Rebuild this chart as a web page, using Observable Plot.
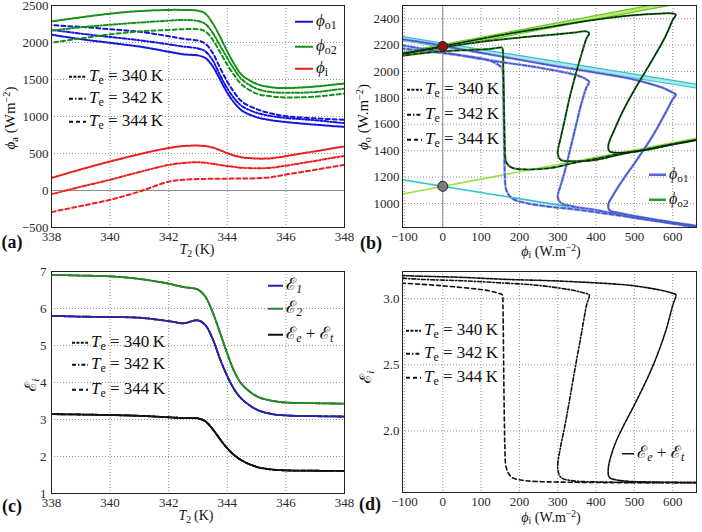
<!DOCTYPE html>
<html>
<head>
<meta charset="utf-8">
<script src="https://cdn.jsdelivr.net/npm/d3@7"></script>
<script src="https://cdn.jsdelivr.net/npm/@observablehq/plot@0.6"></script>
<style>
  body { margin: 0; background: #fff; }
  #fig { position: relative; width: 702px; height: 532px; background: #fff; overflow: hidden;
         font-family: "Liberation Serif", "Times New Roman", Times, "DejaVu Serif", "Noto Serif", serif; color: #111; }
  #fig svg { position: absolute; }
  .lbl { position: absolute; white-space: nowrap; line-height: 1; }
  .row { position: absolute; display: flex; align-items: center; white-space: nowrap;
         transform: translateY(-50%); line-height: 1; }
  .m { font-style: italic; }
  sub { font-size: 0.7em; vertical-align: -0.3em; font-style: normal; }
  sup { font-size: 0.68em; vertical-align: 0.5em; }
  .it { font-style: italic; }
</style>
</head>
<body>
<div id="fig"></div>
<script>
// Temperature of the second reservoir (K)
const T2 = [335, 336, 337, 338, 339, 340, 341, 342, 342.5, 343, 343.25, 343.5, 343.75, 344,
            344.25, 344.5, 345, 345.5, 346, 347, 348, 349, 350, 351, 352, 353, 354];

// Environment temperatures Te (K)
const teValues = [340, 342, 344];

// Input flux phi_i (W m^-2) for each Te
const phiI_340 = [-175, -60, 55, 170, 285, 392, 490, 575, 600, 608, 600, 580, 545, 504,
                  470, 448, 432, 435, 465, 530, 595, 640, 685, 730, 775, 820, 865];
const phiI_342 = [-350, -250, -150, -50, 50, 145, 250, 345, 372, 382, 375, 362, 345, 330,
                  318, 308, 300, 308, 335, 400, 468, 515, 560, 605, 650, 695, 740];
const phiI_344 = [-600, -500, -400, -293, -210, -126, -14, 120, 145, 155, 157, 158, 159, 160,
                  161, 162, 166, 180, 215, 280, 347, 410, 470, 530, 590, 650, 710];

// Output flux phi_o1 (W m^-2)
const phiO1_340 = [2270, 2225, 2165, 2105, 2045, 1995, 1945, 1875, 1840, 1825, 1790, 1680, 1500, 1320,
                   1180, 1080, 990, 950, 925, 890, 860, 840, 820, 800, 780, 760, 740];
const phiO1_342 = [2290, 2260, 2220, 2170, 2120, 2075, 2030, 1975, 1945, 1920, 1880, 1760, 1560, 1380,
                   1240, 1140, 1050, 1005, 980, 950, 910, 885, 865, 845, 825, 805, 790];
const phiO1_344 = [2310, 2290, 2265, 2235, 2210, 2180, 2145, 2085, 2050, 2025, 1985, 1860, 1660, 1470,
                   1320, 1200, 1100, 1040, 1005, 975, 955, 930, 905, 880, 855, 830, 805];

// Output flux phi_o2 (W m^-2)
const phiO2_340 = [2100, 2160, 2222, 2285, 2340, 2390, 2425, 2440, 2440, 2430, 2390, 2260, 2080, 1880,
                   1700, 1560, 1440, 1395, 1385, 1405, 1445, 1470, 1495, 1520, 1545, 1570, 1595];
const phiO2_342 = [2030, 2070, 2110, 2160, 2205, 2240, 2270, 2295, 2305, 2290, 2250, 2130, 1960, 1790,
                   1630, 1500, 1375, 1330, 1320, 1330, 1375, 1400, 1425, 1450, 1475, 1500, 1525];
const phiO2_344 = [1900, 1930, 1960, 2000, 2055, 2110, 2150, 2170, 2180, 2180, 2150, 2040, 1870, 1700,
                   1550, 1430, 1310, 1272, 1258, 1268, 1310, 1345, 1380, 1410, 1445, 1475, 1510];

// Emissivity-like quantities E1, E2 and Ee + Et
const eps1 = [5.83, 5.82, 5.81, 5.80, 5.78, 5.77, 5.75, 5.66, 5.60, 5.68, 5.55, 5.18, 4.64, 4.17,
              3.80, 3.55, 3.27, 3.15, 3.11, 3.09, 3.08, 3.08, 3.08, 3.08, 3.08, 3.08, 3.08];
const eps2 = [6.93, 6.92, 6.92, 6.91, 6.89, 6.87, 6.80, 6.67, 6.58, 6.51, 6.32, 5.90, 5.35, 4.78,
              4.28, 3.95, 3.63, 3.51, 3.46, 3.44, 3.43, 3.43, 3.43, 3.43, 3.43, 3.43, 3.43];
const epsET = [3.18, 3.17, 3.16, 3.145, 3.135, 3.12, 3.10, 3.06, 3.04, 3.03, 2.95, 2.74, 2.47, 2.22,
               2.03, 1.89, 1.72, 1.65, 1.625, 1.615, 1.612, 1.61, 1.61, 1.61, 1.61, 1.61, 1.61];

// Linear asymptotes in the (phi_i, phi_o) plane
const asymSlopeO2 = 0.55, asymInterceptsO2 = [2190, 1130];
const asymSlopeO1 = -0.47, asymInterceptsO1 = [2200, 1130];

// Operating points marked at phi_i = 0
const markerPhiI = [0, 0];
const markerPhiO = [2190, 1130];

// Tick values
const ticksT2 = [338, 340, 342, 344, 346, 348];
const ticksPhiA = [-500, 0, 500, 1000, 1500, 2000, 2500];
const ticksPhiI = [-100, 0, 100, 200, 300, 400, 500, 600];
const ticksPhiO = [1000, 1200, 1400, 1600, 1800, 2000, 2200, 2400];
const ticksEpsC = [1, 2, 3, 4, 5, 6, 7];
const ticksEpsD = [2.0, 2.5, 3.0];

// ---- assemble long-form rows ----
const byTe = {
  340: {phiI: phiI_340, phiO1: phiO1_340, phiO2: phiO2_340},
  342: {phiI: phiI_342, phiO1: phiO1_342, phiO2: phiO2_342},
  344: {phiI: phiI_344, phiO1: phiO1_344, phiO2: phiO2_344}
};
const rows = teValues.flatMap(te => T2.map((t, i) => ({
  te, t2: t,
  phiI: byTe[te].phiI[i], phiO1: byTe[te].phiO1[i], phiO2: byTe[te].phiO2[i],
  eps1: eps1[i], eps2: eps2[i], epsET: epsET[i]
})));

const dash = {340: "3,1.4", 342: "4,2,1.4,2", 344: "4,3"};
const phiIDomain = [-105, 662];
const intFmt = d3.format("d");

function asymLine(b, m) {
  return phiIDomain.map(x => ({x, y: b + m * x}));
}

function curves(x, y, stroke, strokeWidth, dashed = true) {
  return teValues.map(te => Plot.line(rows.filter(d => d.te === te), {
    x, y, stroke, strokeWidth, curve: "catmull-rom", clip: true,
    strokeDasharray: dashed ? dash[te] : null
  }));
}

const fig = document.getElementById("fig");
const baseStyle = {background: "transparent", overflow: "visible", color: "#2a2a2a",
  fontFamily: "'Liberation Serif', 'Times New Roman', Times, 'DejaVu Serif', 'Noto Serif', serif", fontSize: "13px"};
const grid = {stroke: "#8a8a8a", strokeOpacity: 1, strokeDasharray: "1,2", strokeWidth: 0.9};

function place(svg, left, top) {
  svg.style.left = left + "px";
  svg.style.top = top + "px";
  fig.appendChild(svg);
}

const W = 351, H = 266;
const margins = {marginLeft: 51, marginRight: 7, marginTop: 5, marginBottom: 39};

// (a) fluxes versus T2
place(Plot.plot({
  width: W, height: H, ...margins, style: baseStyle,
  x: {domain: [338, 348]}, y: {domain: [-500, 2500]},
  marks: [
    Plot.gridX(ticksT2, grid), Plot.gridY(ticksPhiA, grid),
    Plot.ruleY([0], {stroke: "#8c8c8c", strokeWidth: 1}),
    ...curves("t2", "phiO1", "#1414e0", 2),
    ...curves("t2", "phiO2", "#17901a", 2),
    ...curves("t2", "phiI", "#ec1e1e", 2),
    Plot.frame({stroke: "#222"}),
    Plot.axisX(ticksT2, {tickSize: 0, tickPadding: 4, label: null, tickFormat: intFmt}),
    Plot.axisY(ticksPhiA, {tickSize: 0, tickPadding: 3, label: null, tickFormat: intFmt})
  ]
}), 0, 0);

// (b) output fluxes versus input flux
place(Plot.plot({
  width: W, height: H, marginLeft: 51, marginRight: 6, marginTop: 5, marginBottom: 39, style: baseStyle,
  x: {domain: phiIDomain}, y: {domain: [818, 2500]},
  marks: [
    Plot.gridX(ticksPhiI, grid), Plot.gridY(ticksPhiO, grid),
    Plot.ruleX([0], {stroke: "#8c8c8c", strokeWidth: 1}),
    Plot.line(asymLine(asymInterceptsO2[0], asymSlopeO2), {x: "x", y: "y", stroke: "#6cc42a", strokeWidth: 5, clip: true}),
    Plot.line(asymLine(asymInterceptsO2[0], asymSlopeO2), {x: "x", y: "y", stroke: "#b4ee6c", strokeWidth: 2.6, clip: true}),
    Plot.line(asymLine(asymInterceptsO2[1], asymSlopeO2), {x: "x", y: "y", stroke: "#9be043", strokeWidth: 1.6, clip: true}),
    Plot.line(asymLine(asymInterceptsO1[0], asymSlopeO1), {x: "x", y: "y", stroke: "#33bfc6", strokeWidth: 5, clip: true}),
    Plot.line(asymLine(asymInterceptsO1[0], asymSlopeO1), {x: "x", y: "y", stroke: "#a4eaee", strokeWidth: 2.6, clip: true}),
    Plot.line(asymLine(asymInterceptsO1[1], asymSlopeO1), {x: "x", y: "y", stroke: "#26c2c8", strokeWidth: 1.6, clip: true}),
    ...curves("phiI", "phiO1", "#a3adea", 2.6, false),
    ...curves("phiI", "phiO1", "#4456cc", 1.6),
    ...curves("phiI", "phiO2", "#2a8a2a", 2, false),
    ...curves("phiI", "phiO2", "#0c1e0c", 1.2),
    Plot.dot(markerPhiI.map((x, i) => ({x, y: markerPhiO[i], k: i})), {
      x: "x", y: "y", r: 5, stroke: "#222", strokeWidth: 1,
      fill: d => d.k === 0 ? "#8e1212" : "#7c7c7c"
    }),
    Plot.frame({stroke: "#222"}),
    Plot.axisX(ticksPhiI, {tickSize: 0, tickPadding: 4, label: null, tickFormat: intFmt}),
    Plot.axisY(ticksPhiO, {tickSize: 0, tickPadding: 3, label: null, tickFormat: intFmt})
  ]
}), 351, 0);

// (c) emissivities versus T2
place(Plot.plot({
  width: W, height: H, ...margins, style: baseStyle,
  x: {domain: [338, 348]}, y: {domain: [1, 7]},
  marks: [
    Plot.gridX(ticksT2, grid), Plot.gridY(ticksEpsC, grid),
    ...curves("t2", "eps1", "#26269c", 1.8),
    ...curves("t2", "eps2", "#2a862a", 1.8),
    ...curves("t2", "epsET", "#111", 1.8),
    Plot.frame({stroke: "#222"}),
    Plot.axisX(ticksT2, {tickSize: 0, tickPadding: 4, label: null, tickFormat: intFmt}),
    Plot.axisY(ticksEpsC, {tickSize: 0, tickPadding: 5, label: null, tickFormat: intFmt})
  ]
}), 0, 266);

// (d) Ee + Et versus input flux
place(Plot.plot({
  width: W, height: H, marginLeft: 51, marginRight: 6, marginTop: 5, marginBottom: 40, style: baseStyle,
  x: {domain: phiIDomain}, y: {domain: [1.535, 3.205]},
  marks: [
    Plot.gridX(ticksPhiI, grid), Plot.gridY(ticksEpsD, grid),
    ...curves("phiI", "epsET", "#111", 1.6),
    Plot.frame({stroke: "#222"}),
    Plot.axisX(ticksPhiI, {tickSize: 0, tickPadding: 4, label: null, tickFormat: intFmt}),
    Plot.axisY(ticksEpsD, {tickSize: 0, tickPadding: 3, label: null, tickFormat: d3.format(".1f")})
  ]
}), 351, 266);

// ---- text: axis labels, panel letters, legends ----
function label(html, x, y, size, rotate = false) {
  const d = document.createElement("div");
  d.className = "lbl";
  d.innerHTML = html;
  d.style.left = x + "px";
  d.style.top = y + "px";
  d.style.fontSize = size + "px";
  d.style.transform = "translate(-50%,-50%)" + (rotate ? " rotate(-90deg)" : "");
  fig.appendChild(d);
}
function swatch(color, dasharray, len, width) {
  return `<svg width="${len}" height="8" style="position:static;margin-right:3px">` +
    `<line x1="0" y1="4" x2="${len}" y2="4" stroke="${color}" stroke-width="${width}"` +
    (dasharray ? ` stroke-dasharray="${dasharray}"` : "") + `/></svg>`;
}
function row(x, y, sw, html, size) {
  const d = document.createElement("div");
  d.className = "row";
  d.style.left = x + "px";
  d.style.top = y + "px";
  d.style.fontSize = size + "px";
  d.innerHTML = sw + `<span>${html}</span>`;
  fig.appendChild(d);
}

const phi = '<span class="m">ϕ</span>';
const T2lab = '<span class="m">T</span><sub>2</sub>&thinsp;(K)';
const phiIlab = `${phi}<sub>i</sub> (W.m<sup>−2</sup>)`;
const E = s => `<span class="m">ℰ</span><sub class="it">${s}</sub>`;
const teLab = te => `<span class="m">T</span><sub>e</sub> = ${te}&thinsp;K`;

label(T2lab, 197, 251, 14);
label(`${phi}<sub>a</sub> (Wm<sup>−2</sup>)`, 11, 118, 15, true);
label(phiIlab, 551, 252, 14);
label(`${phi}<sub>o</sub> (W.m<sup>−2</sup>)`, 364, 117, 15, true);
label(T2lab, 196, 517, 14);
label(E("i"), 32, 385, 16, true);
label(phiIlab, 551, 518, 14);
label(E("i"), 367, 377, 16, true);

label("<b>(a)</b>", 12, 242, 18);
label("<b>(b)</b>", 371, 243, 18);
label("<b>(c)</b>", 12, 506, 18);
label("<b>(d)</b>", 370, 504, 18);

// (a) legends
row(295, 22, swatch("#1414e0", null, 18, 2), `${phi}<sub>o1</sub>`, 17);
row(295, 47, swatch("#17901a", null, 18, 2), `${phi}<sub>o2</sub>`, 17);
row(295, 69, swatch("#ec1e1e", null, 18, 2), `${phi}<sub>i</sub>`, 17);
teValues.forEach((te, i) => row(69, [77, 99, 122][i], swatch("#111", dash[te], 17, 2), teLab(te), 17));

// (b) legends
teValues.forEach((te, i) => row(407, [90, 115, 140][i], swatch("#111", dash[te], 15, 2), teLab(te), 17));
row(649, 175, swatch("#5566dd", null, 17, 2.5), `${phi}<sub>o1</sub>`, 16);
row(649, 200, swatch("#2e9a2e", null, 17, 2.5), `${phi}<sub>o2</sub>`, 16);

// (c) legends
row(268, 286, swatch("#26269c", null, 15, 1.8), E("1"), 17);
row(268, 309, swatch("#2a862a", null, 15, 1.8), E("2"), 17);
row(268, 335, swatch("#111", null, 15, 1.8), `${E("e")} + ${E("t")}`, 17);
teValues.forEach((te, i) => row(72, [343, 365, 390][i], swatch("#111", dash[te], 16, 2), teLab(te), 17));

// (d) legends
teValues.forEach((te, i) => row(406, [331, 354, 378][i], swatch("#111", dash[te], 15, 2), teLab(te), 17));
row(622, 454, swatch("#111", null, 12, 1.6), `${E("e")} + ${E("t")}`, 17);
</script>
</body>
</html>
